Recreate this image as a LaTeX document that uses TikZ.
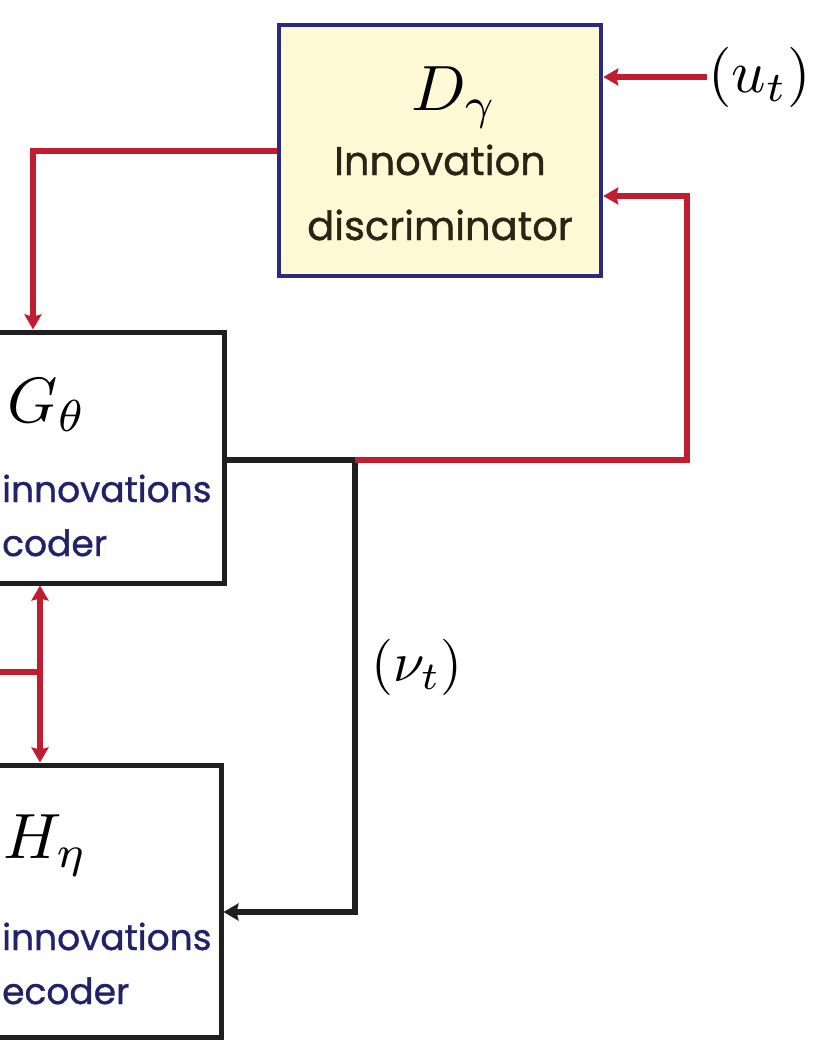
\documentclass[tikz,border=0pt]{standalone}
\usepackage{fontspec}
\setmainfont{Poppins}[FakeBold=1]
\usetikzlibrary{arrows.meta,calc}
\definecolor{redl}{HTML}{C01E30}
\definecolor{dnavy}{HTML}{2A2A7E}
\definecolor{dyell}{HTML}{FFF9D6}
\definecolor{dtext}{HTML}{2B2414}
\definecolor{gtext}{HTML}{22226A}
\begin{document}
\begin{tikzpicture}[x=1pt,y=-1pt,
  boxblk/.style={draw=black!88,line width=5pt,fill=white,inner sep=0pt,rectangle},
  boxD/.style={draw=dnavy,line width=4.5pt,fill=dyell,inner sep=0pt,rectangle},
  redline/.style={draw=redl,line width=6pt},
  blkline/.style={draw=black!88,line width=6pt},
  tip/.style={-{Stealth[length=15pt,width=17pt,inset=2pt]}},
  bitip/.style={{Stealth[length=15pt,width=17pt,inset=2pt]}-{Stealth[length=15pt,width=17pt,inset=2pt]}},
  mathlbl/.style={inner sep=0pt,scale=6.4},
  dlbl/.style={inner sep=0pt,text=dtext,font=\fontsize{40}{40}\selectfont},
  glbl/.style={inner sep=0pt,text=gtext,font=\fontsize{36}{36}\selectfont,anchor=base west}]
\useasboundingbox (0,0) rectangle (812,1057);
\clip (0,0) rectangle (812,1057);
\fill[white] (0,0) rectangle (812,1057);
% boxes
\node[boxD,minimum width=322pt,minimum height=251pt] (D) at (440,150.5) {};
\node[boxblk,minimum width=254pt,minimum height=251pt] (G) at (97,457.5) {};
\node[boxblk,minimum width=251pt,minimum height=272pt] (H) at (95.5,901) {};
% labels in boxes
\node[mathlbl,anchor=base west] (Dl) at (410,110) {$D_\gamma$};
\node[dlbl,anchor=base] (Dt1) at (440,175) {Innovation};
\node[dlbl,anchor=base] (Dt2) at (440,240) {discriminator};
\node[mathlbl,anchor=base west] (Gl) at (6,422) {$G_\theta$};
\node[glbl] (Gt1) at (2,502) {innovations};
\node[glbl] (Gt2) at (2,556) {coder};
\node[mathlbl,anchor=base west] (Hl) at (2,858) {$H_\eta$};
\node[glbl] (Ht1) at (2,950) {innovations};
\node[glbl] (Ht2) at (2,1004) {ecoder};
% outside labels
\node[mathlbl,anchor=west,scale=0.94] (ut) at (707,77) {$(u_t)$};
\node[mathlbl,scale=0.88] (nu) at (417,667) {$(\nu_t)$};
% coordinates
\coordinate (j) at (355,460);
\coordinate (hb) at (355,912);
\coordinate (cr) at (687,196);
\coordinate (gt) at (33,0);
\coordinate (v) at (40,672);
\coordinate (lft) at (-10,672);
% connectors
\draw[redline,tip] (ut.west) -- (ut.west -| D.east);
\draw[blkline] (j -| G.east) -- (j);
\draw[blkline,tip] (j) -- (hb) -- (hb -| H.east);
\draw[redline,tip] (j) -| (cr) -- (cr -| D.east);
\draw[redline,tip] (D.west |- 0,151) -| (gt |- G.north);
\draw[redline,bitip] (v |- G.south) -- (v |- H.north);
\draw[redline] (lft) -- (v);
\end{tikzpicture}
\end{document}
